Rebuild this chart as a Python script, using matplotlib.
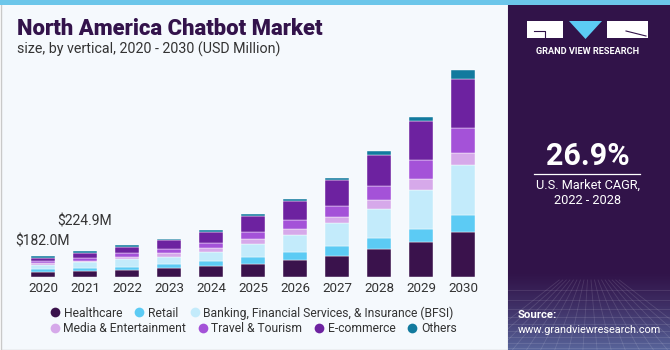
import numpy as np
import matplotlib.pyplot as plt
from matplotlib.patches import Rectangle, Polygon
from matplotlib.lines import Line2D

plt.rcParams['font.family'] = ['Roboto', 'DejaVu Sans']

# data (USD Million)
years = ['2020', '2021', '2022', '2023', '2024', '2025', '2026', '2027', '2028', '2029', '2030']
healthcare = [46, 56, 61, 75, 93, 115, 145, 179, 240, 301, 388]
retail = [20, 18, 29, 37, 43, 55, 72, 89, 98, 115, 150]
bfsi = [37, 53, 63, 63, 81, 119, 150, 197, 254, 341, 434]
media = [15, 15, 17, 29, 32, 43, 49, 55, 75, 93, 104]
travel = [20, 24, 35, 35, 46, 58, 78, 98, 121, 165, 214]
ecommerce = [29, 44, 52, 81, 98, 141, 162, 219, 269, 338, 427]
others = [15, 15, 20, 9, 11, 11, 23, 23, 37, 37, 78]

segments = ['Healthcare', 'Retail', 'Banking, Financial Services, & Insurance (BFSI)',
            'Media & Entertainment', 'Travel & Tourism', 'E-commerce', 'Others']
colors = ['#3a124c', '#5ccbf4', '#c3ebfb', '#d6a9ea', '#a452d8', '#6d22a0', '#127a9e']
series = [healthcare, retail, bfsi, media, travel, ecommerce, others]

callouts = {0: ('$182.0M', 10.8), 1: ('$224.9M', 21.6)}

fig = plt.figure(figsize=(6.7, 3.5), dpi=100)

# background / decoration layer in pixel coords
bg = fig.add_axes([0, 0, 1, 1])
bg.set_xlim(0, 670)
bg.set_ylim(350, 0)
bg.axis('off')
bg.add_patch(Rectangle((0.5, 0.5), 507, 349, fc='#f5f9fd', ec='#c9c9c9', lw=1))
bg.add_patch(Rectangle((508, 0), 162, 350, fc='#311349', ec='none'))

# faded blue grid at the bottom of the side panel
grad = np.zeros((80, 1, 4))
grad[:, 0, :3] = np.array([0x6a, 0x8a, 0xc0]) / 255
grad[:, 0, 3] = np.linspace(0, 0.75, 80) ** 1.3
bg.imshow(grad, extent=(508, 670, 350, 270), aspect='auto', zorder=1)
for yy in [290, 300, 309, 317, 324, 331, 337, 343, 348]:
    bg.plot([508, 670], [yy, yy], color='white', alpha=0.12, lw=0.6, zorder=2)
for xx in np.linspace(470, 710, 18):
    bg.plot([589 + (xx - 589) * 0.25, xx], [280, 350], color='white', alpha=0.12, lw=0.6, zorder=2)

bg.add_patch(Rectangle((0, 0), 670, 5, fc='#6cc6ea', ec='none', zorder=3))

# logo
bg.add_patch(Rectangle((527, 21), 36, 17, fc='white', ec='none', zorder=3))
bg.plot([534, 545, 545], [31, 31, 38], color='#311349', lw=0.8, zorder=4)
bg.add_patch(Polygon([[569, 21], [602, 21], [585.5, 39]], closed=True, fc='#5ccbf4', ec='none', zorder=3))
bg.add_patch(Rectangle((607, 21), 41, 17, fc='white', ec='none', zorder=3))
bg.plot([626, 646], [31, 36], color='#311349', lw=0.8, zorder=4)
bg.text(587.5, 51.5, 'GRAND VIEW RESEARCH', color='white', fontsize=6.6, fontweight='bold',
        ha='center', va='center', zorder=4)

bg.text(588, 156, '26.9%', color='white', fontsize=22, fontweight='bold', ha='center', va='center', zorder=4)
bg.plot([534, 640], [173.5, 173.5], color='white', lw=0.9, zorder=4)
bg.text(588, 185, 'U.S. Market CAGR,', color='white', fontsize=9.2, ha='center', va='center', zorder=4)
bg.text(588, 201, '2022 - 2028', color='white', fontsize=9.2, ha='center', va='center', zorder=4)
bg.text(518, 315, 'Source:', color='white', fontsize=8.2, fontweight='bold', ha='left', va='center', zorder=4)
bg.text(518, 330, 'www.grandviewresearch.com', color='white', fontsize=7.8, ha='left', va='center', zorder=4)

# titles
bg.text(17, 29, 'North America Chatbot Market', color='#33134b', fontsize=15.8, fontweight='heavy',
        ha='left', va='center', zorder=4)
bg.text(17, 49, 'size, by vertical, 2020 - 2030 (USD Million)', color='#333333', fontsize=10.3,
        ha='left', va='center', zorder=4)

# bars
ax = fig.add_axes([22 / 670, 73 / 350, 462 / 670, 0.659])
ax.patch.set_alpha(0)
x = np.arange(len(years))
bottom = np.zeros(len(years))
for vals, col, name in zip(series, colors, segments):
    ax.bar(x, vals, 0.57, bottom=bottom, color=col, edgecolor='white', linewidth=0.3, label=name)
    bottom += np.array(vals)

for i, (txt, off) in callouts.items():
    ax.annotate(txt, (x[i], bottom[i]), xytext=(0, off), textcoords='offset points',
                ha='center', va='center', fontsize=10, color='#333333')

ax.set_xlim(-0.5, len(years) - 0.5)
ax.set_ylim(0, 2000)
ax.set_xticks(x)
ax.set_xticklabels(years, fontsize=9.6, color='#333333')
ax.tick_params(axis='x', length=0, pad=3.5)
ax.set_yticks([])
for s in ax.spines.values():
    s.set_visible(False)

# legend in two centred rows
handles = [Line2D([], [], marker='o', ls='none', markersize=7, markerfacecolor=c,
                  markeredgecolor='none', label=n) for c, n in zip(colors, segments)]
leg_kw = dict(frameon=False, fontsize=8.7, handletextpad=0.1, columnspacing=0.8,
              handlelength=1.2, borderpad=0, labelcolor='#333333')
fig.legend(handles=handles[:3], ncol=3, loc='center', bbox_to_anchor=(251 / 670, 1 - 313 / 350), **leg_kw)
fig.legend(handles=handles[3:], ncol=4, loc='center', bbox_to_anchor=(252 / 670, 1 - 329 / 350), **leg_kw)

fig.savefig('out.png', dpi=100)
